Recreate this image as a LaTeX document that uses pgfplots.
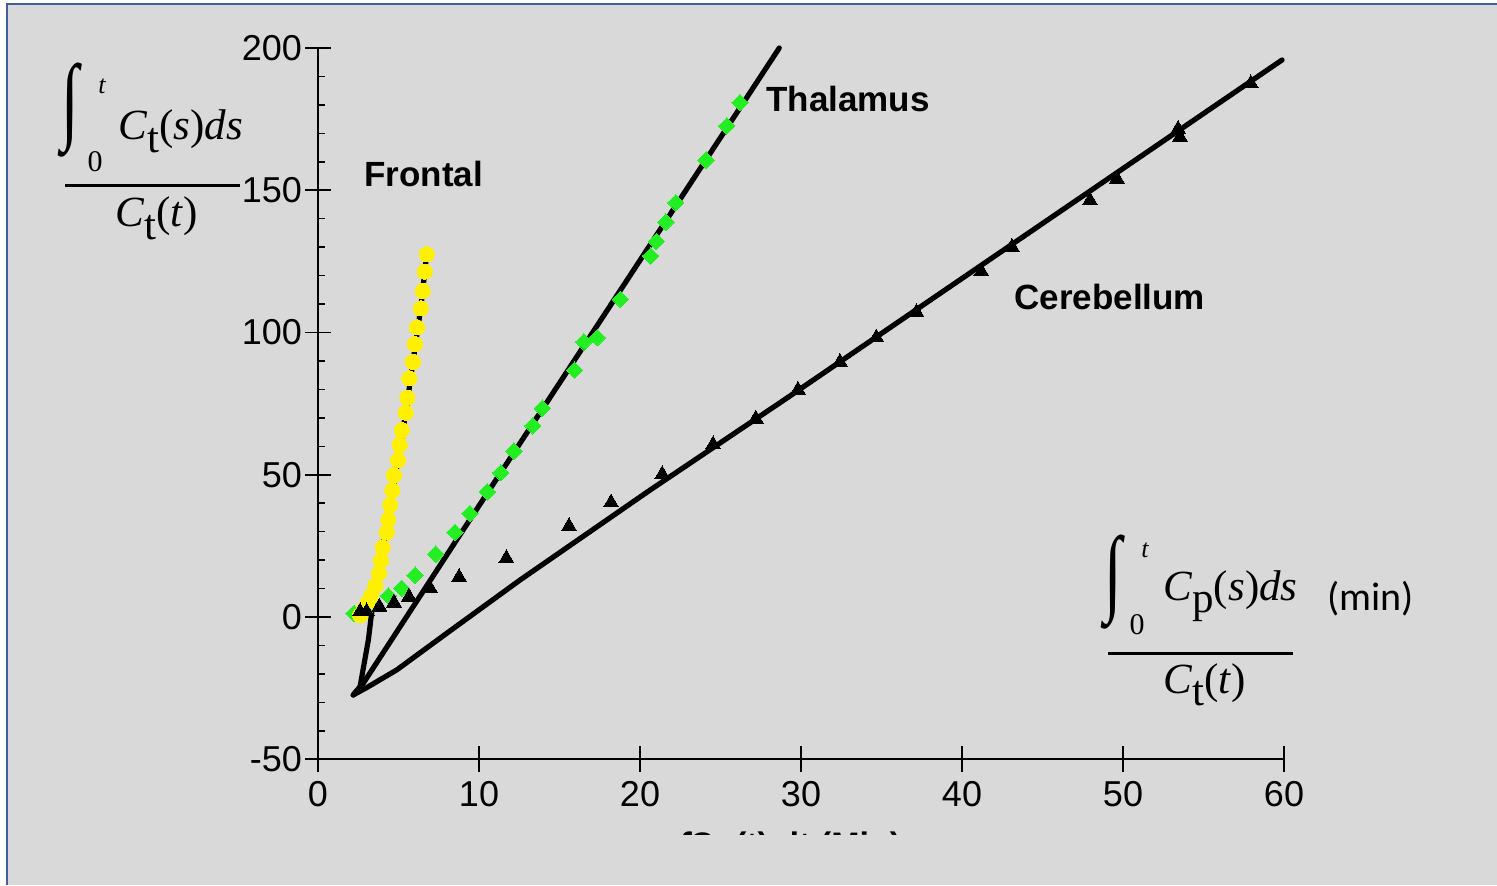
\documentclass[border=0pt]{standalone}
\usepackage{fontspec}
\setmainfont{Liberation Sans}
\newfontfamily\tnr{Liberation Serif}
\newfontfamily\calib{Carlito}
\usepackage{pgfplots}
\pgfplotsset{compat=1.18}

\definecolor{panel}{HTML}{D9D9D9}
\definecolor{frameblue}{HTML}{3F5FA0}
\definecolor{frontalc}{RGB}{255,240,0}
\definecolor{thalc}{RGB}{34,238,34}

% C with an upright subscript, as in the Logan-plot axes
\newcommand\Csub[1]{\textit{C}\raisebox{-0.3em}{#1}}
% tall upright integral sign for the axis quantities
\newcommand\bigint{\scalebox{1.6}[2.4]{\tnr\fontsize{20}{20}\selectfont ∫}}

\begin{document}
\begin{tikzpicture}
% panel, drawn in pixel-like units (0.5pt each, y downwards)
\begin{scope}[x=0.5pt, y=-0.5pt, yshift=442.5pt]
  \useasboundingbox (0,0) rectangle (1497,885);
  \fill[white] (0,0) rectangle (1497,885);
  \fill[panel] (7,4) rectangle (1497,885);
  \draw[frameblue, line width=1.3pt] (7,885) -- (7,4) -- (1497,4);
\end{scope}

\begin{axis}[
  at={(159pt,134pt)}, anchor=origin,
  x=8.05pt, y=1.4225pt,
  xmin=0, xmax=60, ymin=-50, ymax=200,
  axis x line=bottom, axis y line=left,
  axis line style={-, line width=0.9pt},
  xtick={0,10,...,60}, ytick={-50,0,...,200},
  minor y tick num=4, minor x tick num=0,
  tick align=center, major tick length=13pt, minor tick length=3.6pt,
  tick style={black, line width=0.8pt},
  minor y tick style={xshift=1.8pt},
  /pgf/number format/assume math mode=true,
  tick label style={font=\fontsize{18}{20}\selectfont},
  yticklabel style={xshift=2pt},
  xticklabel style={yshift=-1pt},
  clip=false,
]
% Frontal fit
\addplot[black, line width=2.6pt, line join=round, line cap=round] coordinates {
  (2.19,-27.4) (2.61,-24.5) (3.13,-8) (3.3,0) (3.56,11) (4.02,24.5) (4.49,39.4)
  (4.97,55.2) (5.45,71.8) (5.90,89.7) (6.38,108.5) (6.75,127.5)};
% Thalamus fit
\addplot[black, line width=2.6pt, line join=round, line cap=round] coordinates {
  (2.19,-27.4) (2.81,-23.3) (8.61,27.1) (28.65,200)};
% Thalamus data
\addplot[only marks, mark=square*, mark size=2.9pt,
  mark options={rotate=45, draw=thalc, fill=thalc, line width=0pt}] coordinates {
  (2.24,1.3) (3.3,4.3) (4.37,7.4) (5.20,10.1) (6.03,14.7) (7.31,22.1) (8.51,29.8)
  (9.44,36.4) (10.52,44.0) (11.35,50.7) (12.17,58.3) (13.34,67.2) (13.93,73.4)
  (15.93,86.8) (16.52,96.7) (17.35,98.2) (18.78,111.7) (20.66,126.9) (21.01,132.0)
  (21.61,138.8) (22.22,145.6) (24.10,160.6) (25.39,172.6) (26.21,180.8)};
% Frontal data
\addplot[only marks, mark=*, mark size=3.8pt,
  mark options={draw=frontalc, fill=frontalc, line width=0pt}] coordinates {
  (2.61,0.7) (2.81,2.5) (3.06,4.8) (3.31,7.5) (3.56,11.0) (3.79,15.4) (3.91,19.9)
  (4.02,24.5) (4.27,29.8) (4.37,34.3) (4.49,39.4) (4.62,44.6) (4.72,49.9)
  (4.97,55.2) (5.07,60.5) (5.20,65.7) (5.45,71.8) (5.55,77.1) (5.67,83.9)
  (5.90,89.7) (6.02,95.9) (6.15,101.8) (6.38,108.5) (6.50,114.6) (6.63,121.4)
  (6.75,127.5)};
% Cerebellum data
\addplot[only marks, mark=triangle*, mark size=4.3pt,
  mark options={fill=black, draw=black, line width=0pt}] coordinates {
  (2.61,1.9) (3.02,1.9) (3.81,3.6) (4.72,5.0) (5.65,7.1) (6.96,10.1) (8.76,14.0)
  (11.70,20.6) (15.59,31.9) (18.2,40.2) (21.38,50.1) (24.54,60.6) (27.19,69.7)
  (29.81,79.8) (32.42,89.6) (34.68,98.2) (37.17,107.1) (41.2,121.4) (43.1,130.0)
  (47.95,146.4) (49.62,154.0) (53.42,171.5) (53.54,168.7) (57.94,187.5)};
% Cerebellum fit
\addplot[black, line width=2.6pt, line join=round, line cap=round] coordinates {
  (2.19,-27.4) (3.0,-24.9) (4.89,-18.6) (8.0,-5.7) (12.55,13.0) (20.62,44.6)
  (29.11,76.9) (40,119.0) (59.88,195.8)};
\end{axis}

\begin{scope}[x=0.5pt, y=-0.5pt, yshift=442.5pt]
  % region names
  \node[anchor=base west, inner sep=0, font=\bfseries\fontsize{17.5}{18}\selectfont] at (364,187) {Frontal};
  \node[anchor=base west, inner sep=0, font=\bfseries\fontsize{17.5}{18}\selectfont] at (766,112) {Thalamus};
  \node[anchor=base west, inner sep=0, font=\bfseries\fontsize{17.5}{18}\selectfont] at (1014,310) {Cerebellum};

  % y-axis quantity
  \node[inner sep=0] at (70,110) {\bigint};
  \node[inner sep=0] at (102,86) {\tnr\itshape\fontsize{13}{13}\selectfont t};
  \node[inner sep=0] at (95,162) {\tnr\fontsize{15}{15}\selectfont 0};
  \node[anchor=base west, inner sep=0] at (118,140)
    {\tnr\fontsize{21.5}{22}\selectfont\Csub{t}(\textit{s})\textit{ds}};
  \draw[line width=1.5pt] (65,186) -- (240,186);
  \node[anchor=base west, inner sep=0] at (115,227)
    {\tnr\fontsize{21.5}{22}\selectfont\Csub{t}(\textit{t})};

  % x-axis quantity
  \node[inner sep=0] at (1113,582) {\bigint};
  \node[inner sep=0] at (1145,550) {\tnr\itshape\fontsize{13}{13}\selectfont t};
  \node[inner sep=0] at (1137,625) {\tnr\fontsize{15}{15}\selectfont 0};
  \node[anchor=base west, inner sep=0] at (1163,600)
    {\tnr\fontsize{21.5}{22}\selectfont\Csub{p}(\textit{s})\textit{ds}};
  \draw[line width=1.5pt] (1108,653) -- (1293,653);
  \node[anchor=base west, inner sep=0] at (1163,693)
    {\tnr\fontsize{21.5}{22}\selectfont\Csub{t}(\textit{t})};
  \node[anchor=base west, inner sep=0] at (1327,610)
    {\calib\fontsize{20}{20}\selectfont (min)};

  % axis title partly hidden below the tick labels
  \begin{scope}
    \clip (600,827) rectangle (950,834);
    \node[anchor=base west, inner sep=0, font=\bfseries\fontsize{17}{18}\selectfont] at (680,856) {∫Cp(t) dt (Min)};
  \end{scope}
\end{scope}
\end{tikzpicture}
\end{document}
